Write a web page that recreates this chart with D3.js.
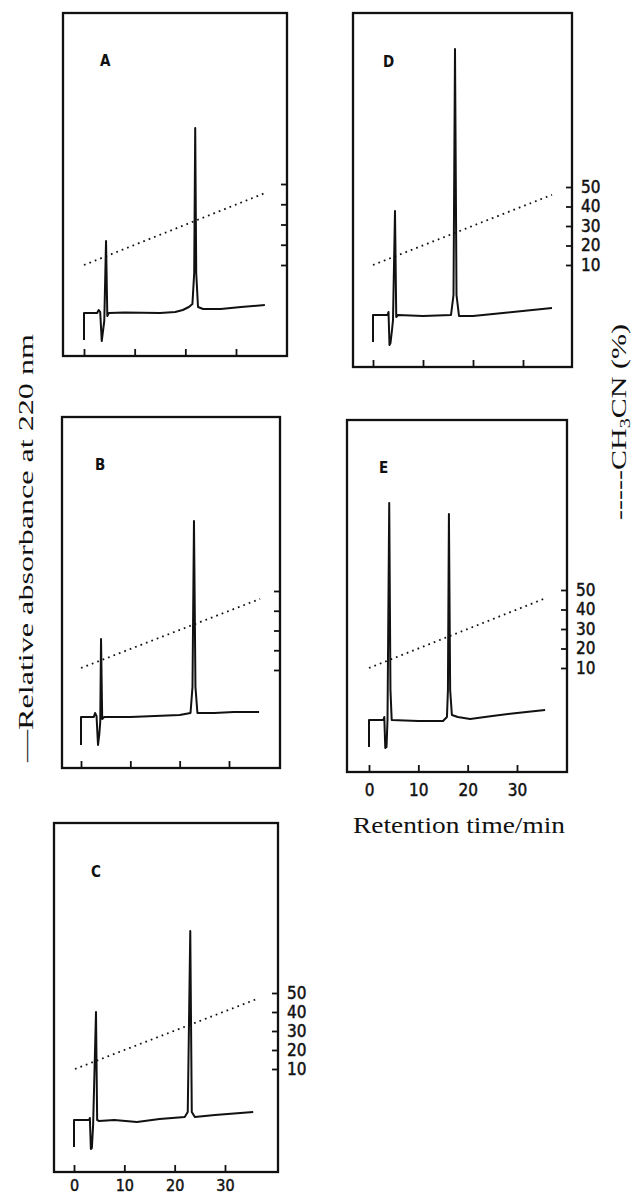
<!DOCTYPE html>
<html>
<head>
<meta charset="utf-8">
<script src="https://cdn.jsdelivr.net/npm/d3@7"></script>
<style>
html,body{margin:0;padding:0;background:#fff;}
svg{display:block;}
</style>
</head>
<body>
<svg id="chart" width="635" height="1195"></svg>
<script>
// ---------------- DATA ----------------
const panelNames = ["A", "B", "C", "D", "E"];
const timeTicks = [0, 10, 20, 30];            // retention time / min
const pctTicks = [10, 20, 30, 40, 50];        // CH3CN (%)
const xTitle = "Retention time/min";
const yTitleLeft = "\u2014Relative absorbance at 220 nm";

// chromatograms: [retention time (min), relative absorbance (arb. units, baseline = 0)]
const traceA = [[0,-27],[0,0],[2.6,0],[2.9,3],[3.2,1],[3.5,-28],[3.7,-20],[4.0,-8],[4.35,72],[4.6,-3],[4.9,0],
  [8,0.5],[15,0],[18,1],[19.5,3],[20.7,6],[21.4,9],[21.75,40],[21.95,185],[22.15,40],[22.5,6],[23.5,4],[27,4],[31,6],[35.7,8]];
const traceB = [[0,-28],[0,0],[2.6,0],[2.85,4],[3.15,1],[3.45,-28],[3.7,-18],[3.9,-5],[4.06,78],[4.3,-2],[4.7,0],
  [10,0],[15,1],[20,2],[22.2,4],[22.6,30],[22.9,196],[23.2,30],[23.6,4],[27,4],[31,5],[36.1,5]];
const traceC = [[0,-27],[0,0],[3.0,0],[3.15,2],[3.35,-29],[3.55,-28],[3.8,-5],[4.37,108],[4.6,0],[5,-1],
  [8,0],[12.5,-2],[17,1],[22,3],[22.6,8],[23.1,189],[23.4,8],[24,3],[28,5],[35.6,8]];
const traceD = [[0,-27],[0,0],[2.9,0],[3.1,3],[3.3,-30],[3.5,-28],[3.8,-15],[4.0,-5],[4.4,104],[4.65,-2],[5,0],
  [10,-1],[15.6,0],[16.1,20],[16.4,266],[16.7,20],[17.2,-1],[20,-1],[26,2],[35.8,7]];
const traceE = [[0,-27],[0,0],[2.9,0],[3.1,3],[3.3,-28],[3.55,-27],[3.75,0],[4.1,217],[4.35,30],[4.6,0],
  [10,-1],[15,-1],[15.8,3],[16.0,30],[16.2,206],[16.45,30],[16.8,5],[18,3],[20.5,1],[25,4],[30,7],[35.7,10]];

// acetonitrile gradient: [time (min), CH3CN %]
const gradA = [[0,10],[35.7,45.5]];
const gradB = [[0,11],[36.3,46]];
const gradC = [[0.2,10],[36,46.5]];
const gradD = [[0,10],[35.8,46]];
const gradE = [[0,10],[36,46]];

// ---------------- LAYOUT ----------------
const layout = {
  A: {frame:[63,13,287,356],  x:[84,236],  pct:[265,184],   base:313,  letter:[100,66],  tLab:false, pLab:false, trace:traceA, grad:gradA},
  B: {frame:[62,417,280,768], x:[81,229],  pct:[670,591],   base:717,  letter:[95,470],  tLab:false, pLab:false, trace:traceB, grad:gradB},
  C: {frame:[54,823,278,1172],x:[74,225],  pct:[1069,993],  base:1120, letter:[91,877],  tLab:true,  pLab:true,  trace:traceC, grad:gradC},
  D: {frame:[353,13,572,367], x:[373,523], pct:[265,187],   base:315,  letter:[383,67],  tLab:false, pLab:true,  trace:traceD, grad:gradD},
  E: {frame:[347,420,567,772],x:[369,517], pct:[668,590],   base:720,  letter:[379,473], tLab:true,  pLab:true,  trace:traceE, grad:gradE}
};

const svg = d3.select("#chart");
const digitFont = "'DejaVu Sans Condensed', 'DejaVu Sans', sans-serif";
const serifFont = "'Liberation Serif', 'Times New Roman', serif";

panelNames.forEach(name => {
  const L = layout[name];
  const [fx0, fy0, fx1, fy1] = L.frame;
  const g = svg.append("g").attr("class", "panel panel-" + name);

  const x = d3.scaleLinear().domain([0, 30]).range(L.x);
  const yPct = d3.scaleLinear().domain([10, 50]).range(L.pct);
  const yAbs = d3.scaleLinear().domain([0, 100]).range([L.base, L.base - 100]);

  // frame
  g.append("rect")
    .attr("x", fx0).attr("y", fy0)
    .attr("width", fx1 - fx0).attr("height", fy1 - fy0)
    .attr("fill", "none").attr("stroke", "#111").attr("stroke-width", 2.3);

  // bottom time axis (ticks pointing inward)
  const xAxis = d3.axisBottom(x).tickValues(timeTicks)
    .tickSizeInner(-7).tickSizeOuter(0)
    .tickPadding(name === "C" ? 8 : 12)
    .tickFormat(L.tLab ? d3.format("d") : () => "");
  const xg = g.append("g").attr("transform", `translate(0,${fy1})`).call(xAxis);
  xg.select(".domain").remove();
  xg.selectAll(".tick line").attr("stroke", "#111").attr("stroke-width", 1.8);
  xg.selectAll(".tick text").attr("font-family", digitFont).attr("font-size", name === "C" ? 16 : 17)
    .attr("fill", "#111").attr("stroke", "#111").attr("stroke-width", 0.45);

  // right CH3CN axis
  const pAxis = d3.axisRight(yPct).tickValues(pctTicks)
    .tickSizeInner(-7).tickSizeOuter(0)
    .tickPadding(8)
    .tickFormat(L.pLab ? d3.format("d") : () => "");
  const pg = g.append("g").attr("transform", `translate(${fx1 + 1},0)`).call(pAxis);
  pg.select(".domain").remove();
  pg.selectAll(".tick line").attr("stroke", "#111").attr("stroke-width", 1.8);
  pg.selectAll(".tick text").attr("font-family", digitFont).attr("font-size", 17)
    .attr("fill", "#111").attr("stroke", "#111").attr("stroke-width", 0.45);

  // gradient (dotted)
  g.append("path").datum(L.grad)
    .attr("d", d3.line().x(d => x(d[0])).y(d => yPct(d[1])))
    .attr("fill", "none").attr("stroke", "#111")
    .attr("stroke-width", 1.8).attr("stroke-dasharray", "1.7 4.1");

  // chromatogram
  g.append("path").datum(L.trace)
    .attr("d", d3.line().x(d => x(d[0])).y(d => yAbs(d[1])))
    .attr("fill", "none").attr("stroke", "#111")
    .attr("stroke-width", 2).attr("stroke-linejoin", "round");

  // panel letter
  g.append("text")
    .attr("x", L.letter[0]).attr("y", L.letter[1])
    .attr("font-family", "'DejaVu Sans Condensed', 'DejaVu Sans', sans-serif")
    .attr("font-weight", "bold").attr("font-size", 15).attr("fill", "#111")
    .text(name);
});

// x-axis title (under panel E)
svg.append("text")
  .attr("x", 459).attr("y", 833)
  .attr("text-anchor", "middle")
  .attr("font-family", serifFont).attr("font-size", 23).attr("fill", "#111")
  .attr("textLength", 212).attr("lengthAdjust", "spacingAndGlyphs")
  .text(xTitle);

// left y title
svg.append("text")
  .attr("transform", "translate(33,548) rotate(-90)")
  .attr("text-anchor", "middle")
  .attr("font-family", serifFont).attr("font-size", 21).attr("fill", "#111")
  .attr("textLength", 428).attr("lengthAdjust", "spacingAndGlyphs")
  .text(yTitleLeft);

// right y title: ----CH3CN (%)
const rt = svg.append("text")
  .attr("transform", "translate(626,422) rotate(-90)")
  .attr("text-anchor", "middle")
  .attr("font-family", serifFont).attr("font-size", 21).attr("fill", "#111")
  .attr("textLength", 196).attr("lengthAdjust", "spacingAndGlyphs");
rt.append("tspan").text("-----CH");
rt.append("tspan").attr("font-size", 14).attr("dy", 4).text("3");
rt.append("tspan").attr("dy", -4).text("CN (%)");
</script>
</body>
</html>
